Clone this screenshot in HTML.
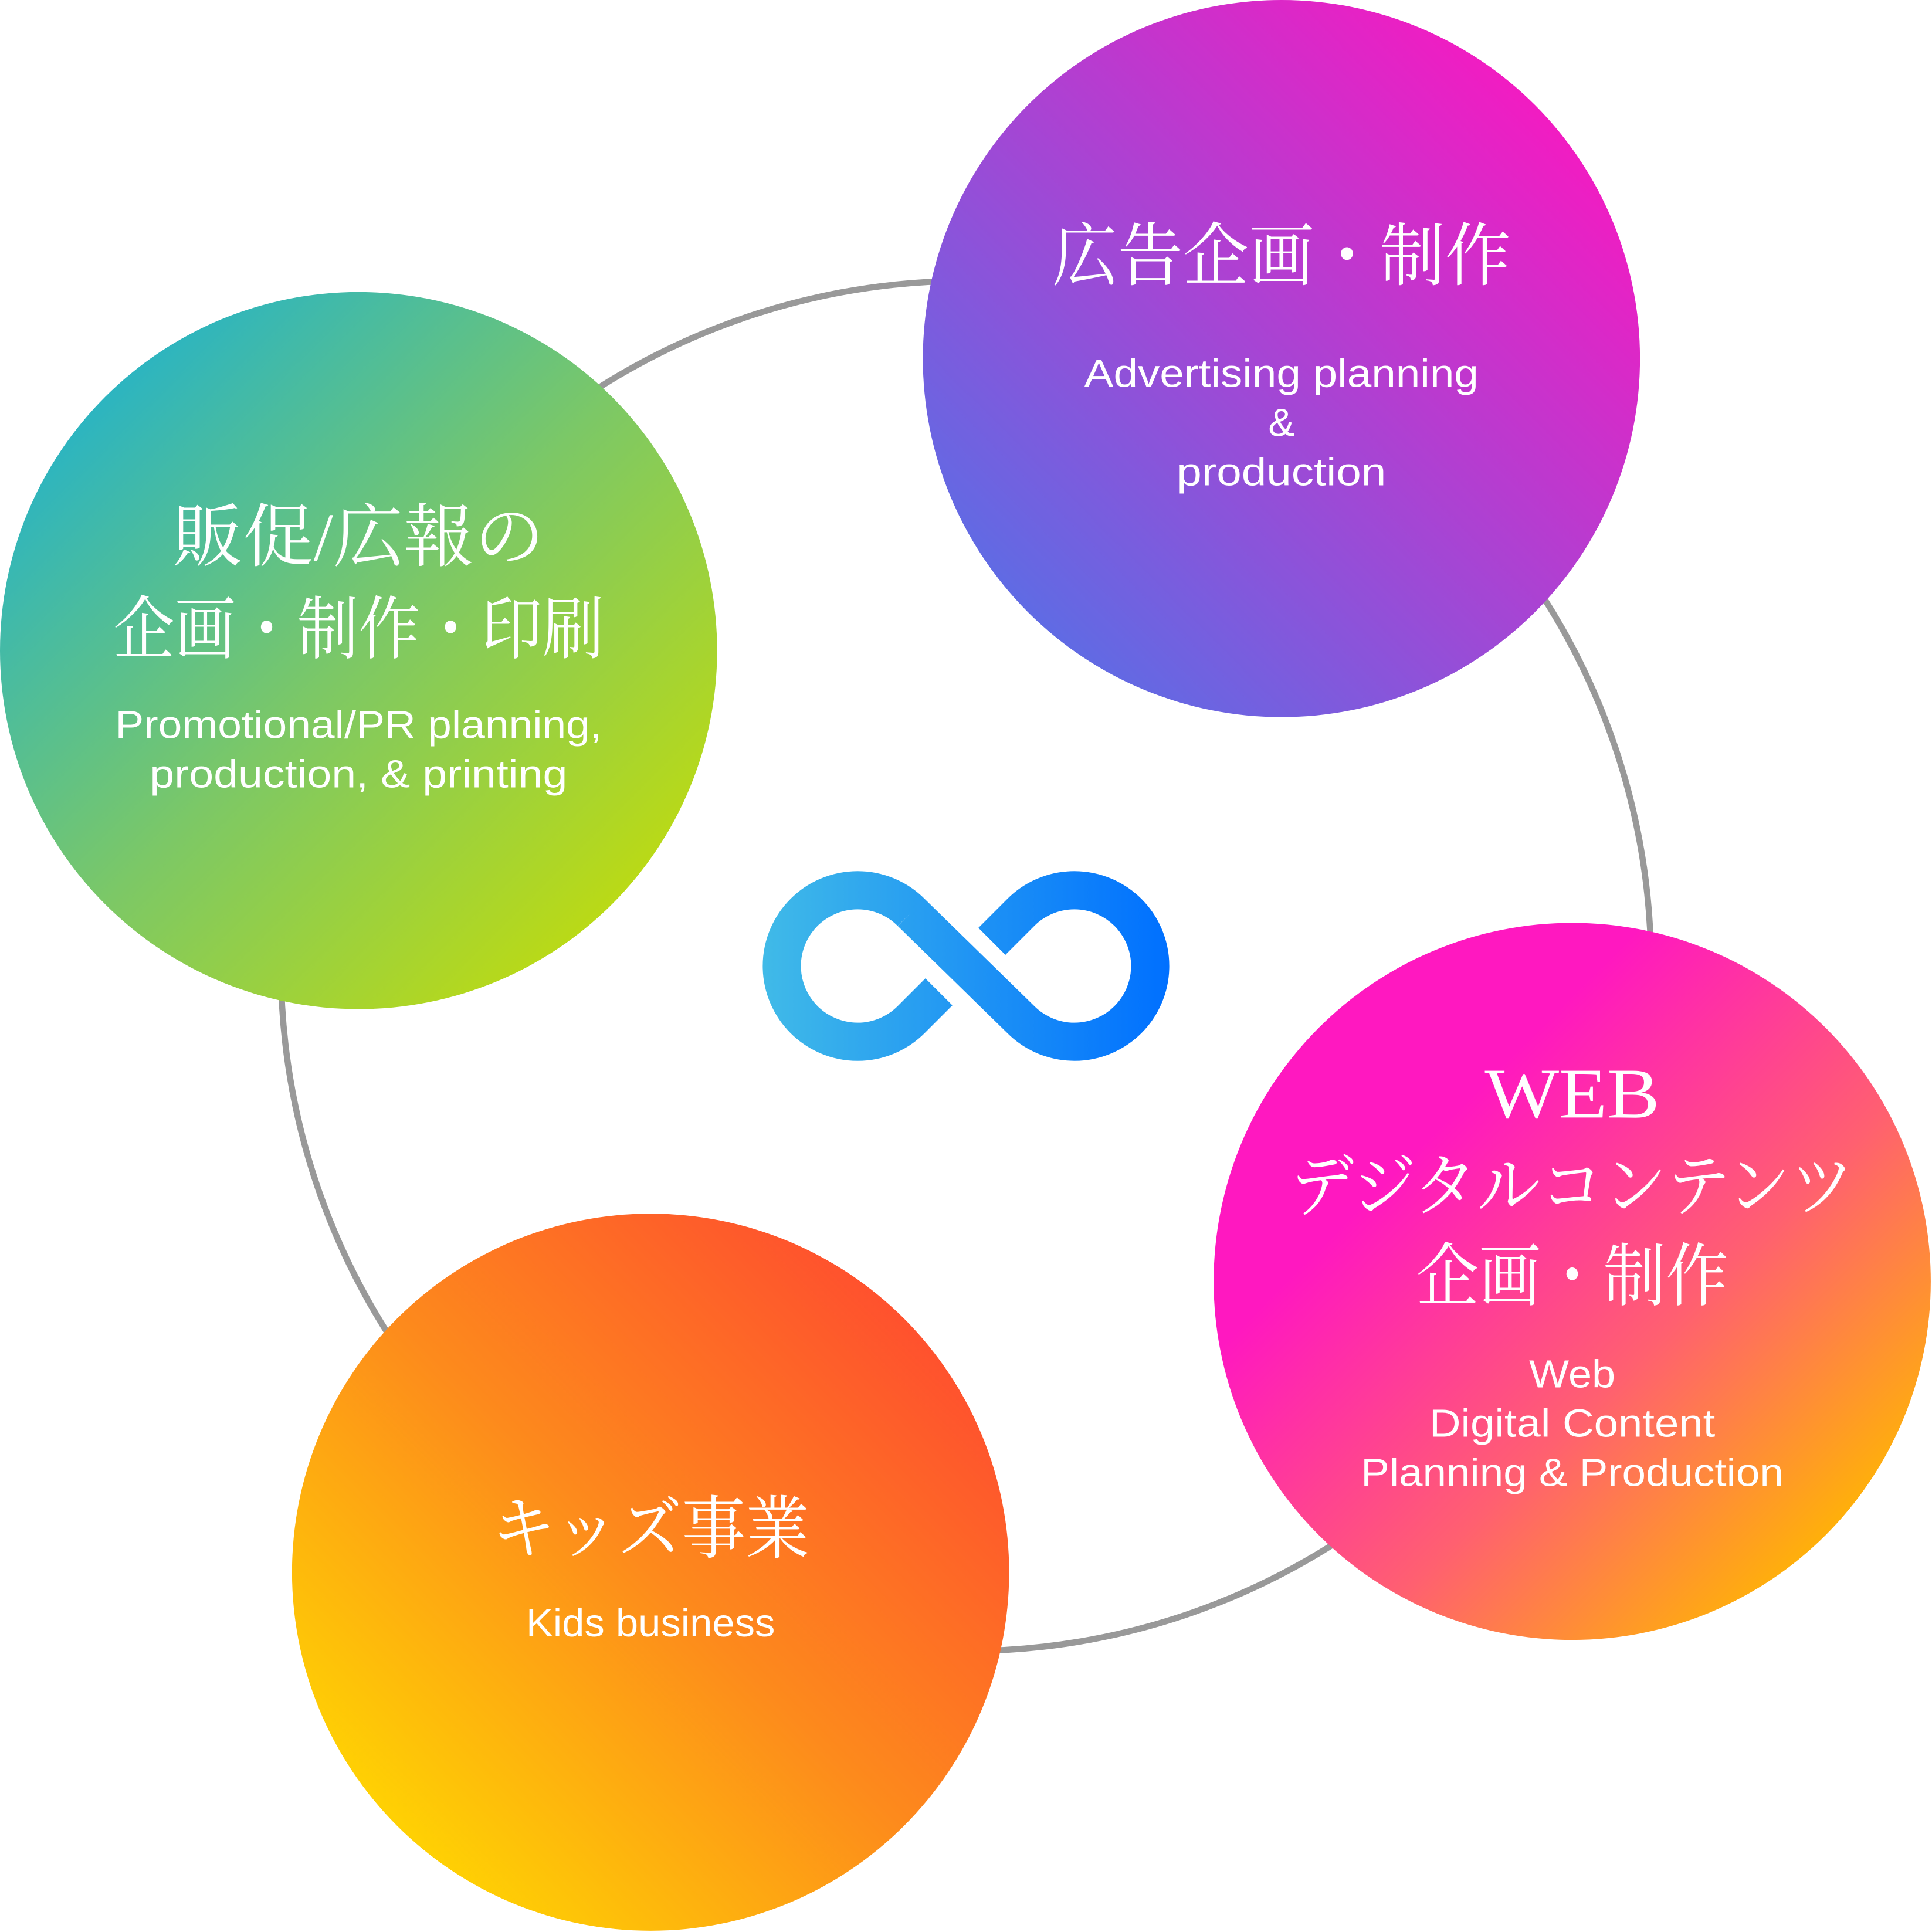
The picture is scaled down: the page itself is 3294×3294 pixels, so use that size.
<!DOCTYPE html>
<html><head><meta charset="utf-8"><style>html,body{margin:0;padding:0;background:#fff}svg{display:block}</style></head>
<body>
<svg width="3294" height="3294" viewBox="0 0 1568 1568" xmlns="http://www.w3.org/2000/svg">
<defs>
<linearGradient id="gp" x1="1" y1="0" x2="0" y2="1"><stop offset="0.1" stop-color="#fb17c0"/><stop offset="0.9" stop-color="#5670e6"/></linearGradient>
<linearGradient id="gg" x1="0" y1="0" x2="1" y2="1"><stop offset="0.1" stop-color="#22b2cc"/><stop offset="0.5" stop-color="#7cc866"/><stop offset="0.9" stop-color="#c2dc0c"/></linearGradient>
<linearGradient id="gk" x1="0" y1="0" x2="1" y2="1"><stop offset="0.3" stop-color="#ff18c0"/><stop offset="0.6" stop-color="#ff6070"/><stop offset="0.88" stop-color="#ffb800"/></linearGradient>
<linearGradient id="go" x1="1" y1="0" x2="0" y2="1"><stop offset="0.1" stop-color="#ff4a30"/><stop offset="0.5" stop-color="#fd8a1c"/><stop offset="0.9" stop-color="#ffda00"/></linearGradient>
<linearGradient id="gi" gradientUnits="userSpaceOnUse" x1="620" y1="784" x2="948" y2="784"><stop offset="0" stop-color="#40bae8"/><stop offset="1" stop-color="#0070ff"/></linearGradient>
</defs>
<circle cx="784" cy="784" r="556" fill="none" stroke="#999" stroke-width="5"/>
<circle cx="1040" cy="291" r="291" fill="url(#gp)"/>
<circle cx="291" cy="528" r="291" fill="url(#gg)"/>
<circle cx="1276" cy="1040" r="291" fill="url(#gk)"/>
<circle cx="528" cy="1276" r="291" fill="url(#go)"/>
<path d="M739.5 740.5 L828.5 827.5 A61.5 61.5 0 1 0 828.5 740.5 L805 764 M739.5 740.5 A61.5 61.5 0 1 0 739.5 827.5 L762 805" fill="none" stroke="url(#gi)" stroke-width="31"/>
<g fill="#fff" text-anchor="middle" font-family="'Liberation Serif','Noto Serif CJK SC',serif" font-size="56" lengthAdjust="spacingAndGlyphs">
<text x="1040" y="227" textLength="372" lengthAdjust="spacingAndGlyphs">広告企画・制作</text>
<text x="291" y="455" textLength="302" lengthAdjust="spacingAndGlyphs">販促/広報の</text>
<text x="291" y="530" textLength="398" lengthAdjust="spacingAndGlyphs">企画・制作・印刷</text>
<text x="1276" y="907" font-size="58" textLength="142" lengthAdjust="spacingAndGlyphs">WEB</text>
<text x="1276" y="982" textLength="457" lengthAdjust="spacingAndGlyphs">デジタルコンテンツ</text>
<text x="1276" y="1055" textLength="253" lengthAdjust="spacingAndGlyphs">企画・制作</text>
<text x="528" y="1260" textLength="258" lengthAdjust="spacingAndGlyphs">キッズ事業</text>
</g>
<g fill="#fff" text-anchor="middle" font-family="'Liberation Sans','DejaVu Sans',sans-serif" font-size="32">
<text x="1040" y="314" textLength="320" lengthAdjust="spacingAndGlyphs">Advertising planning</text>
<text x="1040" y="354">&amp;</text>
<text x="1040" y="394" textLength="170" lengthAdjust="spacingAndGlyphs">production</text>
<text x="291" y="599" textLength="395" lengthAdjust="spacingAndGlyphs">Promotional/PR planning,</text>
<text x="291" y="639" textLength="339" lengthAdjust="spacingAndGlyphs">production, &amp; printing</text>
<text x="1276" y="1126" textLength="70" lengthAdjust="spacingAndGlyphs">Web</text>
<text x="1276" y="1166" textLength="232" lengthAdjust="spacingAndGlyphs">Digital Content</text>
<text x="1276" y="1206" textLength="343" lengthAdjust="spacingAndGlyphs">Planning &amp; Production</text>
<text x="528" y="1328" textLength="202" lengthAdjust="spacingAndGlyphs">Kids business</text>
</g>
</svg>
</body></html>
